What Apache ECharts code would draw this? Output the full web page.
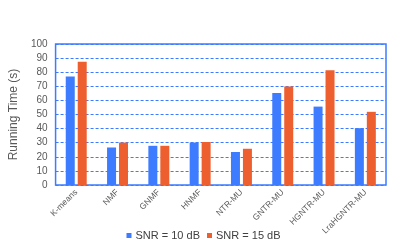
<!DOCTYPE html>
<html><head><meta charset="utf-8">
<script src="https://cdn.jsdelivr.net/npm/echarts@6/dist/echarts.min.js"></script>
<style>html,body{margin:0;padding:0;background:#fff}#c{width:407px;height:246px}</style>
</head><body><div id="c"></div>
<script>
const categories = ['K-means','NMF','GNMF','HNMF','NTR-MU','GNTR-MU','HGNTR-MU','LraHGNTR-MU'];
const snr10 = [77, 26.6, 27.8, 30.1, 23.4, 65.3, 55.6, 40.3];
const snr15 = [87.5, 30.1, 27.8, 30.5, 25.7, 69.8, 81.4, 51.9];
const seriesNames = ['SNR = 10 dB', 'SNR = 15 dB'];
const yTicks = {min: 0, max: 100, interval: 10};

const chart = echarts.init(document.getElementById('c'), null, {renderer: 'canvas'});
chart.setOption({
  animation: false,
  textStyle: {fontFamily: 'Liberation Sans, Arial, sans-serif'},
  grid: {left: 48, right: 21, top: 44, bottom: 61, show: true, borderColor: '#3d7cff', borderWidth: 1.5, backgroundColor: 'transparent'},
  legend: {
    top: 225, left: 'center', itemWidth: 5, itemHeight: 5, itemGap: 7, icon: 'rect',
    textStyle: {fontSize: 11, color: '#404040', padding: [0, 0, 0, -1]},
    data: seriesNames
  },
  xAxis: {
    type: 'category', data: categories,
    axisLine: {show: false}, axisTick: {show: false},
    axisLabel: {rotate: 45, fontSize: 8.5, color: '#595959', interval: 0, margin: 6}
  },
  yAxis: {
    type: 'value', min: yTicks.min, max: yTicks.max, interval: yTicks.interval,
    name: 'Running Time (s)', nameLocation: 'middle', nameGap: 29, nameRotate: 90,
    nameTextStyle: {fontSize: 12, color: '#595959'},
    axisLine: {show: false}, axisTick: {show: false},
    axisLabel: {fontSize: 10, color: '#595959', margin: 8},
    splitLine: {lineStyle: {color: '#3d7cff', type: [3, 2], width: 1}}
  },
  series: [
    {name: seriesNames[0], type: 'bar', data: snr10, barWidth: 9, barGap: '33%', itemStyle: {color: '#3d7cff'}},
    {name: seriesNames[1], type: 'bar', data: snr15, barWidth: 9, itemStyle: {color: '#ee5f2f'}}
  ]
});
</script></body></html>
